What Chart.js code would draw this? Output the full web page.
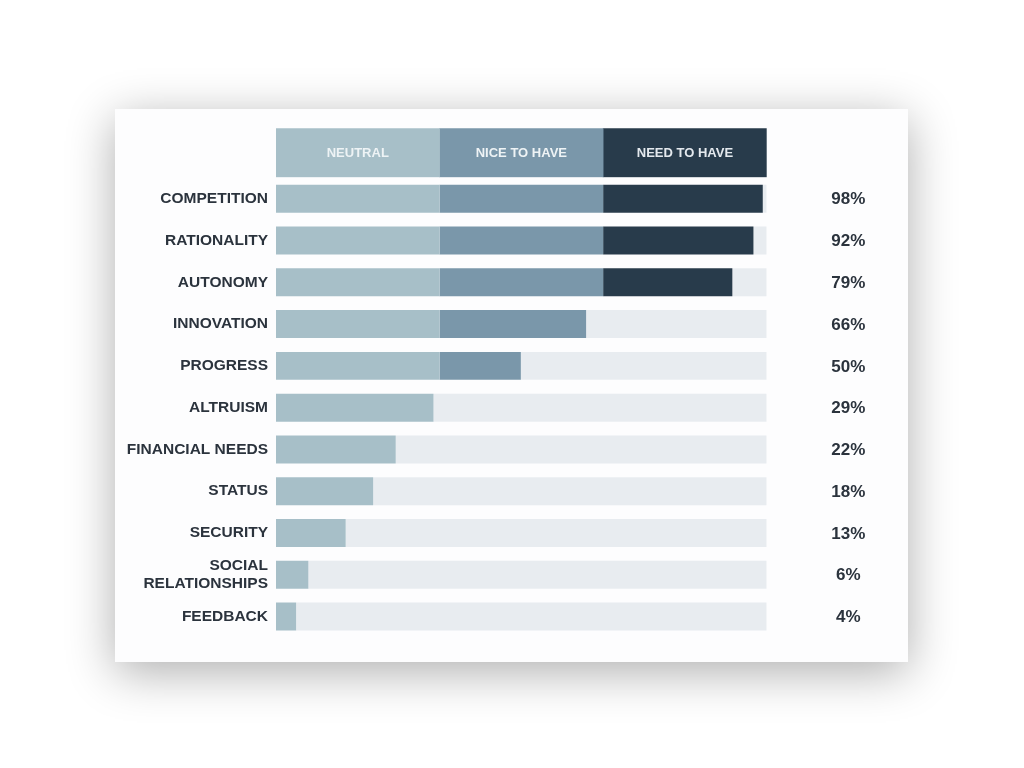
<!DOCTYPE html>
<html>
<head>
<meta charset="utf-8">
<script src="https://cdn.jsdelivr.net/npm/chart.js@4.4.0/dist/chart.umd.min.js"></script>
<style>
  html, body { margin: 0; padding: 0; background: #ffffff; }
  body { width: 1024px; height: 768px; position: relative; overflow: hidden; }
  #card {
    position: absolute; left: 115px; top: 109px; width: 793px; height: 553px;
    background: #fdfdfe;
    box-shadow: 0 10px 45px rgba(0, 0, 0, 0.32);
  }
  #headCanvas { position: absolute; left: 115px; top: 120px; }
  #mainCanvas { position: absolute; left: 115px; top: 170px; }
</style>
</head>
<body>
<div id="card"></div>
<canvas id="headCanvas" width="793" height="70"></canvas>
<canvas id="mainCanvas" width="793" height="480"></canvas>
<script>
// categories, top to bottom
var categories = ['COMPETITION', 'RATIONALITY', 'AUTONOMY', 'INNOVATION', 'PROGRESS',
  'ALTRUISM', 'FINANCIAL NEEDS', 'STATUS', 'SECURITY', ['SOCIAL', 'RELATIONSHIPS'], 'FEEDBACK'];
// bar length (share of full track)
var barValues = [99.2, 97.3, 93.0, 63.2, 49.9, 32.1, 24.4, 19.8, 14.2, 6.6, 4.1];
// printed percentages on the right
var percentLabels = ['98%', '92%', '79%', '66%', '50%', '29%', '22%', '18%', '13%', '6%', '4%'];
// header segments
var segmentNames = ['NEUTRAL', 'NICE TO HAVE', 'NEED TO HAVE'];
var segmentSize = [100 / 3, 100 / 3, 100 / 3];

var colors = ['#a7bfc8', '#7a97aa', '#283b4b'];
var trackColor = '#e8ecf0';
var textColor = '#2b333d';
var FONT = '"Liberation Sans", Arial, Helvetica, sans-serif';

// split each bar into the three segments + grey rest
var third = 100 / 3;
var neutralPart = barValues.map(v => Math.min(v, third));
var nicePart = barValues.map(v => Math.max(0, Math.min(v - third, third)));
var needPart = barValues.map(v => Math.max(0, v - 2 * third));
var restPart = barValues.map(v => 100 - v);

// header
new Chart(document.getElementById('headCanvas').getContext('2d'), {
    type: 'bar',
    data: {
        labels: [''],
        datasets: segmentNames.map((n, i) => ({
            label: n,
            data: [segmentSize[i]],
            backgroundColor: colors[i],
            borderWidth: 0,
            barPercentage: 1,
            categoryPercentage: 1
        }))
    },
    options: {
        indexAxis: 'y',
        responsive: false,
        animation: false,
        layout: { padding: { left: 161, right: 141.3, top: 8.3, bottom: 12.7 } },
        scales: {
            x: { stacked: true, min: 0, max: 100, display: false },
            y: { stacked: true, display: false }
        },
        plugins: { legend: { display: false }, tooltip: { enabled: false } }
    },
    plugins: [{
        id: 'headText',
        afterDatasetsDraw(chart) {
            var ctx = chart.ctx;
            ctx.save();
            ctx.font = 'bold 13px ' + FONT;
            ctx.textAlign = 'center';
            ctx.textBaseline = 'middle';
            chart.data.datasets.forEach((ds, i) => {
                var bar = chart.getDatasetMeta(i).data[0];
                ctx.fillStyle = i === 2 ? '#e4e9ee' : '#eef3f5';
                ctx.fillText(ds.label, (bar.base + bar.x) / 2, bar.y + 1);
            });
            ctx.restore();
        }
    }]
});

// main bars
new Chart(document.getElementById('mainCanvas').getContext('2d'), {
    type: 'bar',
    data: {
        labels: categories,
        datasets: [
            { label: 'Neutral', data: neutralPart, backgroundColor: colors[0] },
            { label: 'Nice to have', data: nicePart, backgroundColor: colors[1] },
            { label: 'Need to have', data: needPart, backgroundColor: colors[2] },
            { label: 'rest', data: restPart, backgroundColor: trackColor }
        ].map(d => Object.assign(d, { borderWidth: 0, barPercentage: 0.67, categoryPercentage: 1 }))
    },
    options: {
        indexAxis: 'y',
        responsive: false,
        animation: false,
        layout: { padding: { left: 0, right: 141.3, top: 7.9, bottom: 12.6 } },
        scales: {
            x: { stacked: true, min: 0, max: 100, display: false },
            y: {
                stacked: true,
                grid: { display: false, drawTicks: false },
                border: { display: false },
                afterFit(scale) {
                    scale.width = 161;
                    // no extra room for the label overhang, keep rows where they are
                    scale.paddingTop = 0;
                    scale.paddingBottom = 0;
                },
                ticks: {
                    padding: 8,
                    color: textColor,
                    font: { family: FONT, size: 15.5, weight: 'bold', lineHeight: 1.12 }
                }
            }
        },
        plugins: { legend: { display: false }, tooltip: { enabled: false } }
    },
    plugins: [{
        id: 'pctText',
        afterDatasetsDraw(chart) {
            var ctx = chart.ctx;
            ctx.save();
            ctx.font = 'bold 17px ' + FONT;
            ctx.fillStyle = textColor;
            ctx.textAlign = 'center';
            ctx.textBaseline = 'middle';
            chart.getDatasetMeta(0).data.forEach((bar, i) => {
                ctx.fillText(percentLabels[i], 848.3 - 115, bar.y + 1);
            });
            ctx.restore();
        }
    }]
});
</script>
</body>
</html>
